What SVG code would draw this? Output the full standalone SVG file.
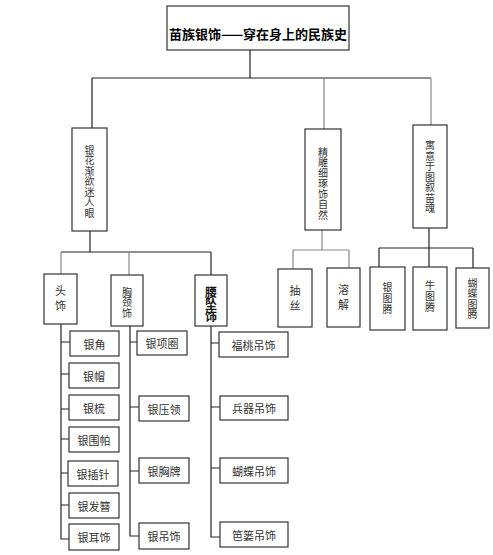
<svg xmlns="http://www.w3.org/2000/svg" width="493" height="555" viewBox="0 0 493 555">
<style>
.b{fill:#fff;stroke:#333;stroke-width:1.2}
.t{font-family:"Noto Sans CJK SC","Liberation Sans",sans-serif;font-size:11px;fill:#333;text-anchor:middle;dominant-baseline:central}
.v{font-family:"Noto Sans CJK SC","Liberation Sans",sans-serif;font-size:10px;fill:#333;text-anchor:middle;writing-mode:vertical-rl;letter-spacing:0.5px}
.v2{font-size:11px;letter-spacing:4px}
.v3{letter-spacing:1px}
.r{font-size:13px;fill:#000;font-weight:bold}
.k{font-size:12px;fill:#111;font-weight:bold;letter-spacing:0}
.c{fill:none;stroke:#222;stroke-width:1.2}
.g{fill:none;stroke:#888;stroke-width:1.2}
</style>
<rect width="493" height="555" fill="#fff"/>
<g id="connectors">
<path class="c" d="M250,50V78M92,78H431M92,78V128"/>
<path class="g" d="M324,78V129M431,78V132"/>
<path class="c" d="M90,231V252M61,252H211M211,252V275"/>
<path class="g" d="M61,252V274M129,252V275"/>
<path class="g" d="M322,230V250M293,250H349M293,250V269M349,250V268"/>
<path class="c" d="M429,228V248M379,248H473M379,248V267M429,248V267M473,248V268"/>
<path class="c" d="M61,324V539H70M61,342H70M61,374H69M61,409H69M61,439H69M61,473H68M61,505H69"/>
<path class="c" d="M130,326V536H139M130,342H137M130,407H139M130,471H139"/>
<path class="c" d="M211,326V537H220M211,343H219M211,407H220M211,468H220"/>
</g>
<g id="root"><rect class="b" x="167" y="6" width="182" height="44"/><text class="t r" x="258" y="33">苗族银饰——穿在身上的民族史</text></g>
<g id="n1"><rect class="b" x="72" y="128" width="35" height="103"/><text class="v" x="89.5" y="181.5">银花渐欲迷人眼</text></g>
<g id="n2"><rect class="b" x="305" y="129" width="36" height="101"/><text class="v" x="323" y="183.5">精雕细琢饰自然</text></g>
<g id="n3"><rect class="b" x="413" y="125" width="34" height="103"/><text class="v" x="430" y="177">寓意于图叙苗魂</text></g>
<g id="n-chousi"><rect class="b" x="278" y="269" width="34" height="58"/><text class="v v2" x="295" y="300.5">抽丝</text></g>
<g id="n-rongjie"><rect class="b" x="327" y="268" width="33" height="59"/><text class="v v2" x="343.5" y="299.5">溶解</text></g>
<g id="n-yintuteng"><rect class="b" x="370" y="267" width="35" height="63"/><text class="v v3" x="387.5" y="299">银图腾</text></g>
<g id="n-niututeng"><rect class="b" x="413" y="267" width="34" height="63"/><text class="v v3" x="430" y="297">牛图腾</text></g>
<g id="n-hudietuteng"><rect class="b" x="456" y="268" width="33" height="60"/><text class="v" x="472.5" y="299">蝴蝶图腾</text></g>
<g id="n-toushi"><rect class="b" x="44" y="274" width="33" height="50"/><text class="v v2" x="60.5" y="300.5">头饰</text></g>
<g id="n-xiongjingshi"><rect class="b" x="111" y="275" width="32" height="51"/><text class="v" x="127" y="302.5">胸颈饰</text></g>
<g id="n-yaozhuishi"><rect class="b" x="195" y="275" width="32" height="51"/><text class="v k" x="211" y="304">腰坠饰</text></g>
<g id="n-yinjiao"><rect class="b" x="70" y="331" width="49" height="25"/><text class="t" x="94.5" y="343.5">银角</text></g>
<g id="n-yinmao"><rect class="b" x="69" y="363" width="50" height="25"/><text class="t" x="94" y="375.5">银帽</text></g>
<g id="n-yinshu"><rect class="b" x="69" y="395" width="50" height="25"/><text class="t" x="94" y="407.5">银梳</text></g>
<g id="n-yinweipa"><rect class="b" x="69" y="427" width="50" height="25"/><text class="t" x="94" y="439.5">银围帕</text></g>
<g id="n-yinchazhen"><rect class="b" x="68" y="461" width="50" height="25"/><text class="t" x="93" y="473.5">银插针</text></g>
<g id="n-yinfazan"><rect class="b" x="69" y="493" width="50" height="25"/><text class="t" x="94" y="505.5">银发簪</text></g>
<g id="n-yinershi"><rect class="b" x="69" y="524" width="50" height="26"/><text class="t" x="94" y="537">银耳饰</text></g>
<g id="n-yinxiangquan"><rect class="b" x="137" y="331" width="50" height="24"/><text class="t" x="162" y="343">银项圈</text></g>
<g id="n-yinyaling"><rect class="b" x="139" y="396" width="50" height="25"/><text class="t" x="164" y="408.5">银压领</text></g>
<g id="n-yinxiongpai"><rect class="b" x="139" y="458" width="50" height="25"/><text class="t" x="164" y="470.5">银胸牌</text></g>
<g id="n-yindiaoshi"><rect class="b" x="139" y="523" width="50" height="26"/><text class="t" x="164" y="536">银吊饰</text></g>
<g id="n-futao"><rect class="b" x="219" y="332" width="69" height="25"/><text class="t" x="253.5" y="344.5">福桃吊饰</text></g>
<g id="n-bingqi"><rect class="b" x="220" y="396" width="68" height="24"/><text class="t" x="254" y="408">兵器吊饰</text></g>
<g id="n-hudie"><rect class="b" x="220" y="458" width="68" height="25"/><text class="t" x="254" y="470.5">蝴蝶吊饰</text></g>
<g id="n-balou"><rect class="b" x="220" y="522" width="68" height="25"/><text class="t" x="254" y="534.5">笆篓吊饰</text></g>
</svg>
